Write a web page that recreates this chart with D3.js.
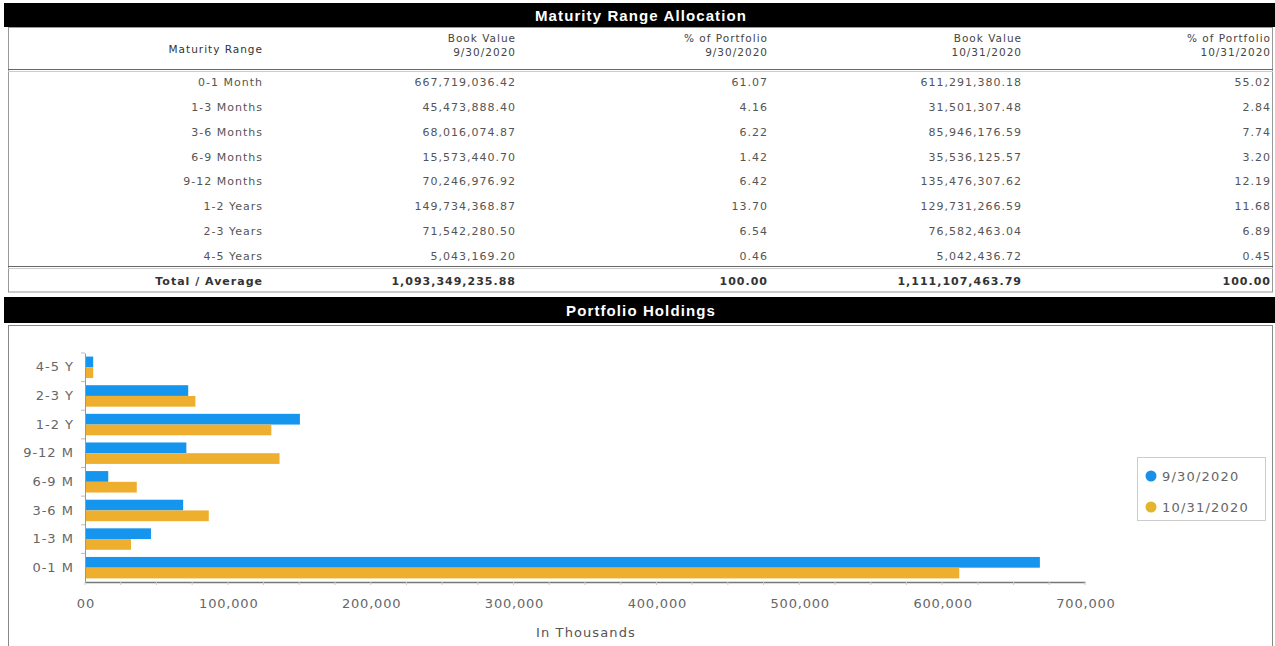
<!DOCTYPE html>
<html><head><meta charset="utf-8">
<script src="https://cdnjs.cloudflare.com/ajax/libs/d3/7.8.5/d3.min.js"></script>
<style>
html,body{margin:0;padding:0;background:#fff;}
svg{display:block;}
</style></head>
<body><svg id="c" width="1275" height="646"></svg>
<script>
// ---- Data ----
const tableTitle = "Maturity Range Allocation";
const chartTitle = "Portfolio Holdings";
const tableHeaders = [["Maturity Range"], ["Book Value", "9/30/2020"], ["% of Portfolio", "9/30/2020"], ["Book Value", "10/31/2020"], ["% of Portfolio", "10/31/2020"]];
const rangeNames = ["0-1 Month", "1-3 Months", "3-6 Months", "6-9 Months", "9-12 Months", "1-2 Years", "2-3 Years", "4-5 Years"];
const bookValueSep = ["667,719,036.42", "45,473,888.40", "68,016,074.87", "15,573,440.70", "70,246,976.92", "149,734,368.87", "71,542,280.50", "5,043,169.20"];
const pctSep = ["61.07", "4.16", "6.22", "1.42", "6.42", "13.70", "6.54", "0.46"];
const bookValueOct = ["611,291,380.18", "31,501,307.48", "85,946,176.59", "35,536,125.57", "135,476,307.62", "129,731,266.59", "76,582,463.04", "5,042,436.72"];
const pctOct = ["55.02", "2.84", "7.74", "3.20", "12.19", "11.68", "6.89", "0.45"];
const totalRow = ["Total / Average", "1,093,349,235.88", "100.00", "1,111,107,463.79", "100.00"];

const categories = ["0-1 M", "1-3 M", "3-6 M", "6-9 M", "9-12 M", "1-2 Y", "2-3 Y", "4-5 Y"];
const seriesNames = ["9/30/2020", "10/31/2020"];
const valuesSep = [667719.04, 45473.89, 68016.07, 15573.44, 70246.98, 149734.37, 71542.28, 5043.17];
const valuesOct = [611291.38, 31501.31, 85946.18, 35536.13, 135476.31, 129731.27, 76582.46, 5042.44];
const xTickValues = [0, 100000, 200000, 300000, 400000, 500000, 600000, 700000];
const xTickLabels = ["00", "100,000", "200,000", "300,000", "400,000", "500,000", "600,000", "700,000"];
const xAxisTitle = "In Thousands";
const colors = ["#1595ee", "#efaf2e"];
const legendColors = ["#1a8fe8", "#e2b52c"];

// ---- Drawing ----
const svg = d3.select("#c");
const hfont = "'Liberation Sans', Arial, sans-serif";
const tfont = "'DejaVu Sans', Verdana, sans-serif";
const cfont = "'DejaVu Sans', Verdana, sans-serif";
const tls = 1; // table letter spacing

// Table header band
svg.append("rect").attr("x", 4).attr("y", 3).attr("width", 1271).attr("height", 24).attr("fill", "#000");
svg.append("text").attr("x", 641).attr("y", 21).attr("text-anchor", "middle")
  .attr("font-family", hfont).attr("font-weight", "bold").attr("font-size", 15).attr("letter-spacing", 1.1)
  .attr("fill", "#fff").text(tableTitle);

// Table box
svg.append("rect").attr("x", 8.5).attr("y", 27.5).attr("width", 1264).attr("height", 264.5)
  .attr("fill", "none").attr("stroke", "#999");
svg.append("line").attr("x1", 8).attr("x2", 1273).attr("y1", 69.5).attr("y2", 69.5).attr("stroke", "#666").attr("stroke-width", 1.2);
svg.append("line").attr("x1", 8).attr("x2", 1273).attr("y1", 71.5).attr("y2", 71.5).attr("stroke", "#ccc");
svg.append("line").attr("x1", 8).attr("x2", 1273).attr("y1", 266.5).attr("y2", 266.5).attr("stroke", "#666").attr("stroke-width", 1.2);
svg.append("line").attr("x1", 8).attr("x2", 1273).attr("y1", 268.5).attr("y2", 268.5).attr("stroke", "#ccc");

const colRight = [262, 515, 767, 1021, 1270].map(v => v + tls);
tableHeaders.forEach((h, i) => {
  const t = svg.append("text").attr("text-anchor", "end").attr("font-family", tfont)
    .attr("font-size", 10.5).attr("letter-spacing", tls).attr("fill", "#444");
  if (h.length === 1) {
    t.attr("x", colRight[i]).attr("y", 53).attr("fill", "#333").text(h[0]);
  } else {
    h.forEach((s, j) => t.append("tspan").attr("x", colRight[i]).attr("y", 42 + j * 14).text(s));
  }
});

const rowsY = d3.scalePoint().domain(rangeNames).range([86, 260]);
const cols = [rangeNames, bookValueSep, pctSep, bookValueOct, pctOct];
cols.forEach((col, ci) => {
  svg.append("g").selectAll("text").data(col.map((v, k) => [rangeNames[k], v])).join("text")
    .attr("x", colRight[ci]).attr("y", d => rowsY(d[0]))
    .attr("text-anchor", "end").attr("font-family", tfont).attr("font-size", 11)
    .attr("letter-spacing", tls).attr("fill", "#555")
    .text(d => d[1]);
});
svg.append("g").selectAll("text").data(totalRow).join("text")
  .attr("x", (d, i) => colRight[i]).attr("y", 285)
  .attr("text-anchor", "end").attr("font-family", tfont).attr("font-size", 11).attr("font-weight", "bold")
  .attr("letter-spacing", tls).attr("fill", "#333")
  .text(d => d);

// Chart header band
svg.append("rect").attr("x", 4).attr("y", 297).attr("width", 1271).attr("height", 26).attr("fill", "#000");
svg.append("text").attr("x", 641).attr("y", 316).attr("text-anchor", "middle")
  .attr("font-family", hfont).attr("font-weight", "bold").attr("font-size", 15).attr("letter-spacing", 1.1)
  .attr("fill", "#fff").text(chartTitle);

// Chart box
svg.append("rect").attr("x", 8.5).attr("y", 325.5).attr("width", 1264).attr("height", 322)
  .attr("fill", "none").attr("stroke", "#888");

// Scales
const x = d3.scaleLinear().domain([0, 700000]).range([85, 1085]);
const y = d3.scaleBand().domain(categories.slice().reverse()).range([353, 582]).paddingInner(0.25).paddingOuter(0.125);
const ySub = d3.scaleBand().domain(seriesNames).range([0, y.bandwidth()]);

const data = categories.map((c, i) => ({c, vals: [valuesSep[i], valuesOct[i]]}));
const gBars = svg.append("g");
data.forEach(d => {
  gBars.selectAll(null).data(d.vals.map((v, k) => ({v, k, c: d.c}))).join("rect")
    .attr("x", x(0) + 1).attr("y", e => y(e.c) + ySub(seriesNames[e.k]))
    .attr("width", e => x(e.v) - x(0)).attr("height", ySub.bandwidth())
    .attr("fill", e => colors[e.k]);
});

// X axis
const xAxis = d3.axisBottom(x).tickValues(xTickValues).tickFormat((d, i) => xTickLabels[i]).tickSize(0).tickPadding(17);
const gx = svg.append("g").attr("transform", "translate(0,582)").call(xAxis);
gx.select(".domain").attr("stroke", "#777").attr("stroke-width", 1.5);
gx.selectAll("text").attr("font-family", cfont).attr("font-size", 13).attr("letter-spacing", 0.8)
  .attr("dx", 0.4).attr("fill", "#666");
const minor = d3.range(0, 700001, 25000);
svg.append("g").selectAll("line").data(minor).join("line")
  .attr("x1", d => x(d)).attr("x2", d => x(d)).attr("y1", 582).attr("y2", 585).attr("stroke", "#ccc");

svg.append("text").attr("x", 586).attr("y", 637).attr("text-anchor", "middle")
  .attr("font-family", cfont).attr("font-size", 13).attr("letter-spacing", 1.1).attr("fill", "#555").text(xAxisTitle);

// Y axis
const yAxis = d3.axisLeft(y).tickSize(0).tickPadding(11);
const gy = svg.append("g").attr("transform", "translate(85,0)").call(yAxis);
gy.select(".domain").attr("stroke", "#999");
gy.selectAll("text").attr("font-family", cfont).attr("font-size", 13).attr("letter-spacing", 1).attr("fill", "#666");
const bounds = categories.map(c => y(c) - y.step() * y.paddingInner() / 2);
svg.append("g").selectAll("line").data(bounds).join("line")
  .attr("x1", 81).attr("x2", 85).attr("y1", d => d).attr("y2", d => d).attr("stroke", "#bbb");

// Legend
const lg = svg.append("g");
lg.append("rect").attr("x", 1137.5).attr("y", 457.5).attr("width", 128).attr("height", 63)
  .attr("fill", "#fff").attr("stroke", "#ccc");
seriesNames.forEach((s, i) => {
  lg.append("circle").attr("cx", 1151).attr("cy", 476 + i * 31).attr("r", 5.5).attr("fill", legendColors[i]);
  lg.append("text").attr("x", 1162).attr("y", 481 + i * 31).attr("font-family", cfont).attr("font-size", 13)
    .attr("letter-spacing", 1.2).attr("fill", "#666").text(s);
});
</script></body></html>
